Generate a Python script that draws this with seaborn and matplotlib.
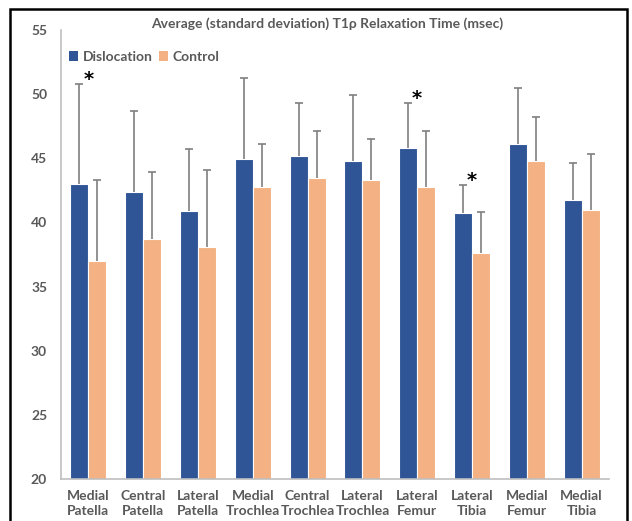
import matplotlib
matplotlib.use("Agg")
import matplotlib.pyplot as plt
from matplotlib.patches import Rectangle, Patch
import numpy as np
import pandas as pd
import seaborn as sns

regions = ["Medial\nPatella", "Central\nPatella", "Lateral\nPatella", "Medial\nTrochlea",
           "Central\nTrochlea", "Lateral\nTrochlea", "Lateral\nFemur", "Lateral\nTibia",
           "Medial\nFemur", "Medial\nTibia"]
groups = ["Dislocation", "Control"]
dislocation_mean = [43.0, 42.4, 40.9, 44.95, 45.15, 44.75, 45.8, 40.7, 46.15, 41.75]
dislocation_sd = [7.8, 6.25, 4.85, 6.3, 4.15, 5.2, 3.5, 2.2, 4.35, 2.9]
control_mean = [37.0, 38.7, 38.05, 42.75, 43.45, 43.3, 42.75, 37.6, 44.8, 40.95]
control_sd = [6.3, 5.2, 6.05, 3.4, 3.7, 3.2, 4.35, 3.2, 3.45, 4.35]
significant = ["Medial\nPatella", "Lateral\nFemur", "Lateral\nTibia"]
y_ticks = [20, 25, 30, 35, 40, 45, 50, 55]

palette = {"Dislocation": "#2F5597", "Control": "#F4B183"}
text_color = "#595959"
axis_color = "#BFBFBF"
err_color = "#7F7F7F"

df = pd.DataFrame({
    "Region": regions * 2,
    "Group": ["Dislocation"] * len(regions) + ["Control"] * len(regions),
    "Mean": dislocation_mean + control_mean,
    "SD": dislocation_sd + control_sd,
})

sns.set_theme(style="white")
plt.rcParams["font.family"] = ["Lato", "DejaVu Sans"]

fig = plt.figure(figsize=(6.32, 5.21), dpi=100)
ax = fig.add_axes([61 / 632, 42 / 521, 548 / 632, 449 / 521])

sns.barplot(data=df, x="Region", y="Mean", hue="Group", order=regions,
            hue_order=groups, palette=palette, errorbar=None, width=0.66,
            edgecolor="white", linewidth=0.8, saturation=1, ax=ax, legend=False)

# upper-only standard deviation whiskers
for cont, grp in zip(ax.containers, groups):
    sub = df[df["Group"] == grp].set_index("Region").loc[regions]
    xs = [p.get_x() + p.get_width() / 2 for p in cont.patches]
    means = sub["Mean"].to_numpy()
    sds = sub["SD"].to_numpy()
    _, caps, _ = ax.errorbar(xs, means, yerr=[np.zeros_like(sds), sds], fmt="none",
                             ecolor=err_color, elinewidth=1.2, capsize=3,
                             capthick=1.2, zorder=3)
    caps[0].set_visible(False)

# significance markers above the dislocation whisker
for i, r in enumerate(regions):
    if r in significant:
        top = dislocation_mean[i] + dislocation_sd[i]
        ax.text(i, top + 0.35, "*", ha="center", va="center", fontsize=14,
                fontweight="bold", color="black", family="DejaVu Sans")

ax.set_ylim(20, 55)
ax.set_xlim(-0.5, len(regions) - 0.5)
ax.set_yticks(y_ticks)
ax.set_xlabel("")
ax.set_ylabel("")
ax.tick_params(axis="y", direction="in", length=4, color=axis_color, pad=10,
               labelsize=10, labelcolor=text_color)
ax.tick_params(axis="x", length=0, pad=8, labelsize=10, labelcolor=text_color)
for lab in ax.get_xticklabels() + ax.get_yticklabels():
    lab.set_fontweight("bold")
    lab.set_linespacing(1.3)
for s in ["top", "right"]:
    ax.spines[s].set_visible(False)
for s in ["left", "bottom"]:
    ax.spines[s].set_color(axis_color)
    ax.spines[s].set_linewidth(1.2)

handles = [Patch(facecolor=palette[g], edgecolor="none", label=g) for g in groups]
leg = ax.legend(handles=handles, loc="center left", bbox_to_anchor=(0.0, 0.94),
                ncol=2, frameon=False, handlelength=0.65, handleheight=0.65,
                handletextpad=0.3, columnspacing=0.5, borderaxespad=0.2,
                prop={"weight": "bold", "size": 10})
for t in leg.get_texts():
    t.set_color(text_color)

fig.text(327 / 632, 1 - 24 / 521, "Average (standard deviation) T1\u03c1 Relaxation Time (msec)",
         ha="center", va="center", fontsize=10, fontweight="bold", color=text_color)

# outer frame
fig.patches.append(Rectangle((10 / 632, -0.05), 617 / 632, 1.05 - 9 / 521,
                             transform=fig.transFigure, fill=False,
                             edgecolor="black", linewidth=1.8, clip_on=False))

fig.savefig("out.png", dpi=100, facecolor="white")
